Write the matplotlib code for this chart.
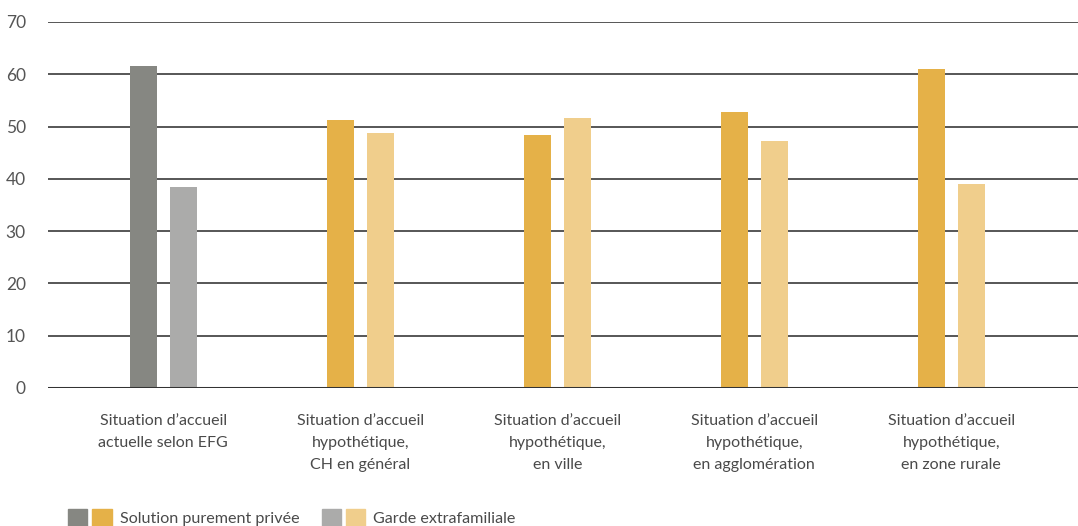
import matplotlib.pyplot as plt
from matplotlib.legend_handler import HandlerTuple
from matplotlib.patches import Patch
import numpy as np

categories = ["Situation d’accueil\nactuelle selon EFG",
              "Situation d’accueil\nhypothétique,\nCH en général",
              "Situation d’accueil\nhypothétique,\nen ville",
              "Situation d’accueil\nhypothétique,\nen agglomération",
              "Situation d’accueil\nhypothétique,\nen zone rurale"]
privee = [61.6, 51.2, 48.4, 52.8, 61.0]
garde = [38.4, 48.8, 51.6, 47.2, 39.0]
yticks = [0, 10, 20, 30, 40, 50, 60, 70]

c_priv = ['#868782', '#e5b148', '#e5b148', '#e5b148', '#e5b148']
c_garde = ['#ababaa', '#f0ce8c', '#f0ce8c', '#f0ce8c', '#f0ce8c']

plt.rcParams['font.family'] = ['Lato', 'DejaVu Sans']

fig = plt.figure(figsize=(10.78, 5.26), dpi=100)
ax = fig.add_axes([48 / 1078, 1 - 388 / 526, 1030 / 1078, 366 / 526])

x = np.arange(len(categories))
w = 0.137
ax.bar(x - 0.101, privee, width=w, color=c_priv, zorder=3)
ax.bar(x + 0.101, garde, width=w, color=c_garde, zorder=3)

for t in yticks[1:]:
    ax.axhline(t, color='#3a3a3a', lw=1.2, zorder=1)
ax.axhline(0, color='#333333', lw=2.2, zorder=4)

ax.set_ylim(0, 70)
ax.set_xlim(-0.585, 4.643)
ax.set_yticks(yticks)
ax.set_yticklabels([str(t) for t in yticks], fontsize=12.5, color='#555555')
ax.set_xticks(x)
ax.set_xticklabels(categories, fontsize=11.5, color='#4a4a4a', linespacing=1.7)
ax.tick_params(axis='both', length=0)
ax.tick_params(axis='x', pad=19)
ax.tick_params(axis='y', pad=16)
for s in ax.spines.values():
    s.set_visible(False)

h1 = (Patch(color='#868782'), Patch(color='#e5b148'))
h2 = (Patch(color='#ababaa'), Patch(color='#f0ce8c'))
fig.legend([h1, h2], ['Solution purement privée', 'Garde extrafamiliale'],
           handler_map={tuple: HandlerTuple(ndivide=None, pad=0.3)},
           loc='lower left', bbox_to_anchor=(60 / 1078, -0.016), ncol=2, frameon=False,
           borderaxespad=0.1, fontsize=11.6, handlelength=2.7, handleheight=1.25,
           handletextpad=0.5, columnspacing=1.4, labelcolor='#4a4a4a')

fig.savefig('out.png', dpi=100)
